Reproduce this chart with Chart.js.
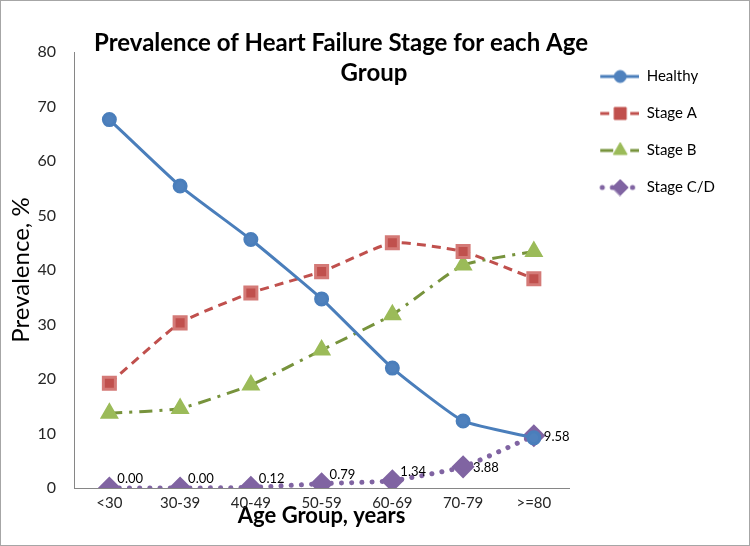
<!DOCTYPE html>
<html>
<head>
<meta charset="utf-8">
<script src="https://cdn.jsdelivr.net/npm/chart.js@4.4.1/dist/chart.umd.min.js"></script>
<style>
  html, body { margin: 0; padding: 0; background: #fff; }
  #wrap { position: relative; width: 748px; height: 544px; border: 1px solid #a6a6a6; }
</style>
</head>
<body>
<div id="wrap"><canvas id="chart" width="748" height="544"></canvas></div>
<script>
const ageGroups = ['<30', '30-39', '40-49', '50-59', '60-69', '70-79', '>=80'];
const healthy = [67.6, 55.4, 45.6, 34.7, 22.0, 12.3, 9.2];
const stageA = [19.2, 30.3, 35.8, 39.7, 45.0, 43.4, 38.4];
const stageB = [13.7, 14.6, 18.9, 25.3, 31.8, 40.9, 43.4];
const stageCD = [0.00, 0.00, 0.12, 0.79, 1.34, 3.88, 9.58];
const yTicks = [0, 10, 20, 30, 40, 50, 60, 70, 80];

const FONT = 'Lato, "Open Sans", sans-serif';

// legend symbol: short line with the marker in the middle
function legendIcon(color, markerColor, dash, cap, width, style, radius) {
  const c = document.createElement('canvas');
  c.width = 48; c.height = 18;
  const ctx = c.getContext('2d');
  ctx.strokeStyle = color;
  ctx.lineWidth = width;
  ctx.lineCap = cap;
  ctx.setLineDash(dash);
  ctx.beginPath();
  ctx.moveTo(cap === 'round' ? 11 : 9, 9);
  ctx.lineTo(cap === 'round' ? 46 : 48, 9);
  ctx.stroke();
  ctx.setLineDash([]);
  ctx.fillStyle = markerColor;
  ctx.strokeStyle = markerColor;
  ctx.lineWidth = 1;
  Chart.helpers.drawPoint(ctx, { pointStyle: style, radius: radius, borderWidth: 1, rotation: 0 }, 29, 9);
  return c;
}

const titlePlugin = {
  id: 'twoLineTitle',
  afterLayout(chart) {
    // legend sits a little higher than the plot top
    chart.legend.top -= 5;
    chart.legend.bottom -= 5;
  },
  afterDraw(chart) {
    const ctx = chart.ctx;
    ctx.save();
    ctx.fillStyle = '#000';
    ctx.font = 'bold 24px ' + FONT;
    ctx.textAlign = 'center';
    ctx.textBaseline = 'middle';
    ctx.fillText('Prevalence of Heart Failure Stage for each Age', 340, 42);
    ctx.fillText('Group', 373, 72);
    ctx.restore();
  }
};

const valueLabels = {
  id: 'valueLabels',
  afterDatasetsDraw(chart) {
    const ctx = chart.ctx;
    const meta = chart.getDatasetMeta(3);
    ctx.save();
    ctx.fillStyle = '#000';
    ctx.font = '13px ' + FONT;
    ctx.textAlign = 'left';
    ctx.textBaseline = 'middle';
    meta.data.forEach((pt, i) => {
      const above = i < 5;
      ctx.fillText(stageCD[i].toFixed(2), pt.x + (above ? 8 : 10), pt.y + (above ? -9 : 1));
    });
    ctx.restore();
  }
};

const datasets = [
  {
    label: 'Healthy', data: healthy,
    borderColor: '#4A7EBB', backgroundColor: '#4F81BD', borderWidth: 3,
    pointStyle: 'circle', pointRadius: 6, pointBackgroundColor: '#4F81BD', pointBorderColor: '#4A7EBB',
    tension: 0.15,
    icon: legendIcon('#4A7EBB', '#4F81BD', [], 'butt', 3, 'circle', 6)
  },
  {
    label: 'Stage A', data: stageA,
    borderColor: '#C0504D', backgroundColor: '#C0504D', borderWidth: 3, borderDash: [9, 6],
    pointStyle: 'rect', pointRadius: 8.5, pointBackgroundColor: '#C0504D', pointBorderColor: '#D47A77',
    tension: 0.15,
    icon: legendIcon('#C0504D', '#C0504D', [9, 6], 'butt', 3, 'rect', 8.5)
  },
  {
    label: 'Stage B', data: stageB,
    borderColor: '#77933C', backgroundColor: '#9BBB59', borderWidth: 3, borderDash: [13, 7, 3, 7],
    pointStyle: 'triangle', pointRadius: 8, pointBackgroundColor: '#9BBB59', pointBorderColor: '#9BBB59',
    tension: 0.15,
    icon: legendIcon('#77933C', '#9BBB59', [13, 7, 3, 7], 'butt', 3, 'triangle', 8)
  },
  {
    label: 'Stage C/D', data: stageCD,
    borderColor: '#8064A2', backgroundColor: '#8064A2', borderWidth: 5, borderDash: [0.1, 10], borderCapStyle: 'round',
    pointStyle: 'rectRot', pointRadius: 8, pointBackgroundColor: '#8064A2', pointBorderColor: '#8064A2',
    tension: 0.15,
    icon: legendIcon('#8064A2', '#8064A2', [0.1, 10], 'round', 5, 'rectRot', 8)
  }
];

new Chart(document.getElementById('chart'), {
  type: 'line',
  data: { labels: ageGroups, datasets: datasets },
  plugins: [titlePlugin, valueLabels],
  options: {
    responsive: false,
    animation: false,
    layout: { padding: { left: 4, top: 51, right: 24, bottom: 8 } },
    plugins: {
      title: { display: false },
      tooltip: { enabled: false },
      legend: {
        position: 'right',
        align: 'start',
        labels: {
          font: { family: FONT, size: 15 },
          color: '#000',
          padding: 22,
          usePointStyle: true,
          pointStyleWidth: 48,
          boxHeight: 15,
          generateLabels(chart) {
            return chart.data.datasets.map((ds, i) => ({
              text: ds.label,
              pointStyle: ds.icon,
              datasetIndex: i,
              hidden: false,
              lineWidth: 0,
              fontColor: '#000'
            }));
          }
        }
      }
    },
    scales: {
      x: {
        offset: true,
        grid: { display: false, drawTicks: false },
        border: { display: true, color: '#868686', width: 1 },
        ticks: { color: '#262626', font: { family: FONT, size: 15 }, padding: 6, maxRotation: 0 },
        title: {
          display: true, text: 'Age Group, years', color: '#000',
          font: { family: FONT, size: 22, weight: 'bold' }, padding: { top: 0, bottom: 8 }
        },
        afterFit(s) { s.height = 49; }
      },
      y: {
        min: 0, max: 80,
        afterBuildTicks(s) { s.ticks = yTicks.map(v => ({ value: v })); },
        grid: { display: false, drawTicks: false },
        border: { display: true, color: '#868686', width: 1 },
        ticks: { color: '#262626', font: { family: FONT, size: 16 }, padding: 18 },
        title: {
          display: true, text: 'Prevalence, %', color: '#000',
          font: { family: FONT, size: 24 }, padding: { top: 2, bottom: 0 }
        },
        afterFit(s) { s.width = 69; }
      }
    }
  }
});
</script>
</body>
</html>
